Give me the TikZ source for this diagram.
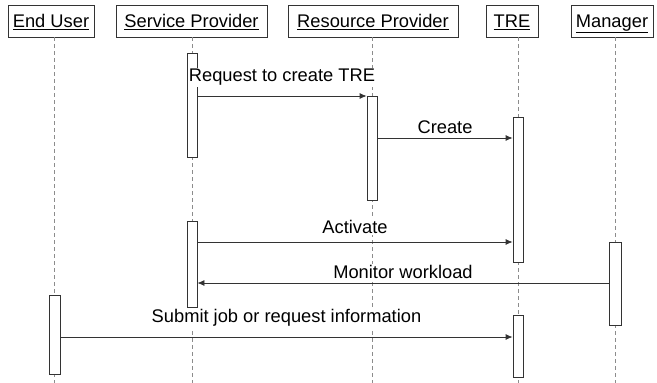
\documentclass[tikz,border=0pt]{standalone}
\usepackage{fontspec}
\setmainfont{Liberation Sans}
\usetikzlibrary{arrows.meta}
\tikzset{
	actor/.style={draw=black!80, line width=0.8pt, minimum height=32pt, inner sep=0pt, text height=13pt, text depth=0pt, font=\fontsize{18.3}{20}\selectfont},
	lifeline/.style={draw=black!45, dash pattern=on 4pt off 3pt, line width=0.8pt},
	bar/.style={draw=black!80, fill=white, line width=0.8pt, minimum width=10pt, inner sep=0pt},
	msg/.style={draw=black!80, line width=0.8pt, -{Latex[length=7pt,width=6pt]}},
	lbl/.style={fill=white, inner sep=1pt, font=\fontsize{18.3}{20}\selectfont},
}

\begin{document}
\begin{tikzpicture}[x=1pt, y=-1pt]
			%%%%% START %%%%%
			\useasboundingbox (0,0) rectangle (657,383);
			
			\node[actor, minimum width=86pt] (eu) at (51,21) {\underline{End User}};
			\node[actor, minimum width=151pt] (sp) at (191.5,21) {\underline{Service Provider}};
			\node[actor, minimum width=170pt] (rp) at (373,21) {\underline{Resource Provider}};
			\node[actor, minimum width=52pt] (tre) at (512,21) {\underline{TRE}};
			\node[actor, minimum width=82pt] (mg) at (612,21) {\underline{Manager}};
			
			\draw[lifeline] (eu.south -| 54,0) -- (54,383);
			\draw[lifeline] (sp.south -| 192,0) -- (192,383);
			\draw[lifeline] (rp.south -| 372,0) -- (372,383);
			\draw[lifeline] (tre.south -| 518,0) -- (518,383);
			\draw[lifeline] (mg.south -| 615,0) -- (615,383);
			
			\node[bar, minimum height=104pt] (sp1) at (192,105) {};
			\node[bar, minimum height=104pt] (rp1) at (372,148) {};
			\node[bar, minimum height=145pt] (tre1) at (518,189.5) {};
			\node[bar, minimum height=86pt] (sp2) at (192,264) {};
			\node[bar, minimum height=83pt, minimum width=12pt] (mg1) at (615,283.5) {};
			\node[bar, minimum height=79pt, minimum width=11pt] (eu1) at (54.5,334.5) {};
			\node[bar, minimum height=62pt] (tre2) at (518,346) {};
			
			\draw[msg] (sp1.east |- 0,96) -- node[lbl, above=9pt] {Request to create TRE} (rp1.west |- 0,96);
			\draw[msg] (rp1.east |- 0,138) -- node[lbl, above=3pt] {Create} (tre1.west |- 0,138);
			\draw[msg] (sp2.east |- 0,242) -- node[lbl, above=7pt] {Activate} (tre1.west |- 0,242);
			\draw[msg] (mg1.west |- 0,283) -- node[lbl, above=3pt] {Monitor workload} (sp2.east |- 0,283);
			\draw[msg] (eu1.east |- 0,337) -- node[lbl, above=9pt] {Submit job or request information} (tre2.west |- 0,337);
			
			%%%%% END %%%%%
\end{tikzpicture}
\end{document}
